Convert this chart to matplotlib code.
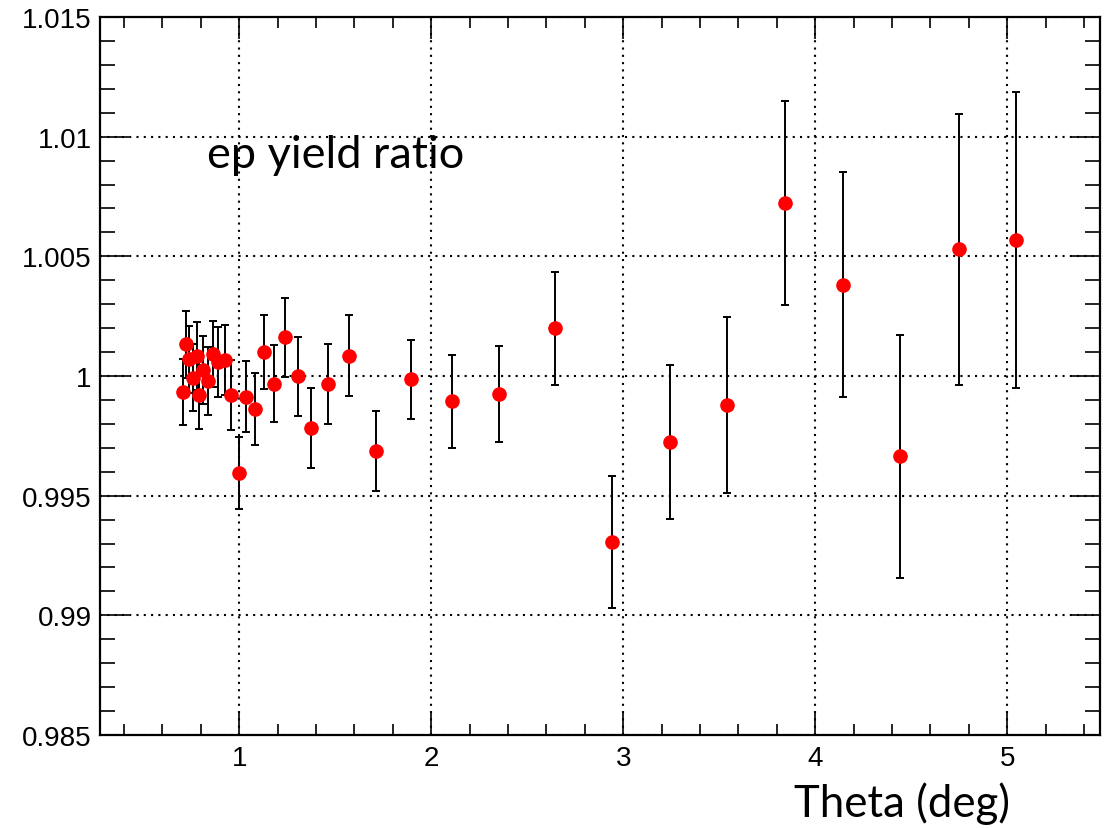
import numpy as np
import matplotlib
matplotlib.use("Agg")
import matplotlib.pyplot as plt
from matplotlib.ticker import MultipleLocator, FixedFormatter, FixedLocator

# ep yield ratio vs scattering angle
theta = [0.705, 0.722, 0.740, 0.757, 0.778, 0.792, 0.814, 0.839, 0.861, 0.892,
         0.925, 0.957, 0.998, 1.035, 1.082, 1.130, 1.182, 1.240, 1.304, 1.375,
         1.465, 1.573, 1.711, 1.894, 2.106, 2.352, 2.643, 2.941, 3.241, 3.543,
         3.844, 4.144, 4.444, 4.750, 5.048]
ratio = [0.99932, 1.00133, 1.00071, 0.99992, 1.00085, 0.99921, 1.00026, 0.99980,
         1.00092, 1.00057, 1.00068, 0.99922, 0.99595, 0.99914, 0.99863, 1.00099,
         0.99967, 1.00161, 0.99999, 0.99782, 0.99965, 1.00085, 0.99685, 0.99987,
         0.99895, 0.99925, 1.00200, 0.99307, 0.99724, 0.99880, 1.00721, 1.00382,
         0.99664, 1.00529, 1.00568]
err = [0.00138, 0.00140, 0.00140, 0.00140, 0.00142, 0.00142, 0.00142, 0.00142,
       0.00138, 0.00146, 0.00146, 0.00146, 0.00150, 0.00150, 0.00150, 0.00154,
       0.00161, 0.00165, 0.00165, 0.00167, 0.00167, 0.00170, 0.00167, 0.00165,
       0.00194, 0.00200, 0.00236, 0.00276, 0.00320, 0.00367, 0.00426, 0.00470,
       0.00507, 0.00567, 0.00619]

xticks = [1, 2, 3, 4, 5]
yticks = [0.985, 0.99, 0.995, 1.0, 1.005, 1.01, 1.015]
ytick_labels = ["0.985", "0.99", "0.995", "1", "1.005", "1.01", "1.015"]

fig = plt.figure(figsize=(11.14, 8.29), dpi=100)
ax = fig.add_axes([100 / 1114, 1 - 736 / 829, 1000 / 1114, 718 / 829])

ax.errorbar(theta, ratio, yerr=err, fmt='o', color='red', markersize=9.5,
            ecolor='black', elinewidth=1.4, capsize=3, capthick=1.4, zorder=3)

ax.set_xlim(0.275, 5.483)
ax.set_ylim(0.985, 1.015)

ax.xaxis.set_major_locator(FixedLocator(xticks))
ax.xaxis.set_minor_locator(MultipleLocator(0.2))
ax.yaxis.set_major_locator(FixedLocator(yticks))
ax.yaxis.set_major_formatter(FixedFormatter(ytick_labels))
ax.yaxis.set_minor_locator(MultipleLocator(0.001))

ax.tick_params(which='both', direction='in', top=True, right=True, width=1.2,
               labelsize=20, colors='black')
ax.tick_params(axis='x', which='major', length=16, pad=7)
ax.tick_params(axis='x', which='minor', length=8)
ax.tick_params(axis='y', which='major', length=21, pad=6)
ax.tick_params(axis='y', which='minor', length=10.5)
for lab in ax.get_xticklabels() + ax.get_yticklabels():
    lab.set_fontfamily('Liberation Sans')

ax.grid(True, which='major', color='black', linestyle=(0, (1, 2.5)), linewidth=1.5)
for sp in ax.spines.values():
    sp.set_linewidth(1.6)

ax.text(0.107, 0.791, "ep yield ratio", transform=ax.transAxes,
        fontfamily='Lato', fontsize=32.5, ha='left', va='baseline')
fig.text(1010 / 1114, 1 - 817 / 829, "Theta (deg)", fontfamily='Lato',
         fontsize=31.5, ha='right', va='baseline')

fig.savefig("out.png", dpi=100)
